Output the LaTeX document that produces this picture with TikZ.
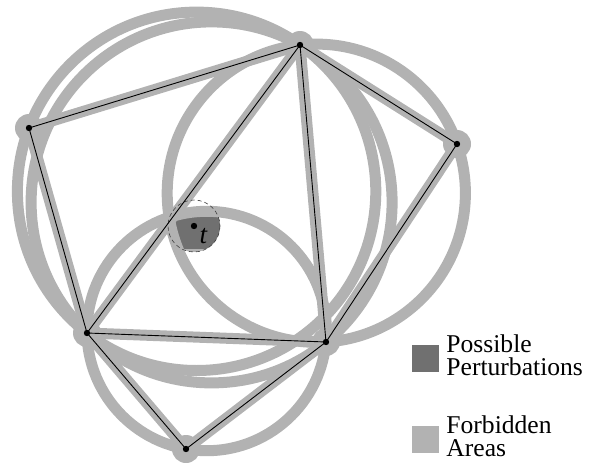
\documentclass[tikz,border=0pt]{standalone}
\usepackage{fontspec}
\setmainfont{Liberation Serif}
\usepackage{tikz}
\usetikzlibrary{positioning}
\definecolor{forbid}{gray}{0.70}
\definecolor{perturb}{gray}{0.44}

\begin{document}
\begin{tikzpicture}[x=1pt, y=-1pt,
    band/.style={draw=forbid, line width=11pt},
    edge/.style={draw=black, line width=0.9pt},
    legbox/.style={rectangle, minimum size=27pt, inner sep=0pt},
    legtext/.style={align=left, inner sep=0pt, yshift=3pt, font=\fontsize{25.6}{23.2}\selectfont}
]
\useasboundingbox (0,0) rectangle (589,463);
\coordinate (a) at (29,128);
\coordinate (b) at (300,45);
\coordinate (c) at (457,144);
\coordinate (d) at (87,333);
\coordinate (e) at (326,342);
\coordinate (f) at (186,449);
\coordinate (t) at (194,226);
% circumcentres of abd, bde, bce, def
\coordinate (c1) at (196.6,191.3);
\coordinate (c2) at (211.6,202.4);
\coordinate (c3) at (316.3,193.2);
\coordinate (c4) at (206.7,331.0);

% perturbation region around t
\begin{scope}
\clip (c4) circle (119.7);
\clip (c3) circle (149.1);
\fill[forbid] (t) circle (26);
\clip (0,0) rectangle (589,248);
\fill[perturb] (t) circle (26);
\end{scope}

% forbidden areas
\foreach \c/\r in {c1/179.2,c2/180.5,c3/149.1,c4/119.7}{\draw[band] (\c) circle (\r);}
\foreach \p/\q in {a/b,a/d,b/d,b/e,b/c,c/e,d/e,d/f,e/f}{\draw[band] (\p) -- (\q);}
\foreach \v in {a,b,c,d,e,f}{\fill[forbid] (\v) circle (14);}

\draw[dashed, dash pattern=on 4pt off 3pt, line width=0.6pt, black!75] (t) circle (26);

% triangulation
\foreach \p/\q in {a/b,a/d,b/d,b/e,b/c,c/e,d/e,d/f,e/f}{\draw[edge] (\p) -- (\q);}
\foreach \v in {a,b,c,d,e,f,t}{\fill (\v) circle (3.2);}
\node[anchor=base west, inner sep=0pt, font=\fontsize{27}{30}\selectfont] (tlab) at (199.5,243) {\textit{t}};

% legend
\node[legbox, fill=perturb] (kpert) at (425.5,358) {};
\node[legtext, right=7pt of kpert] (lpert) {Possible\\Perturbations};
\node[legbox, fill=forbid] (kforb) at (425.5,439.5) {};
\node[legtext, right=7pt of kforb] (lforb) {Forbidden\\Areas};
\end{tikzpicture}
\end{document}
